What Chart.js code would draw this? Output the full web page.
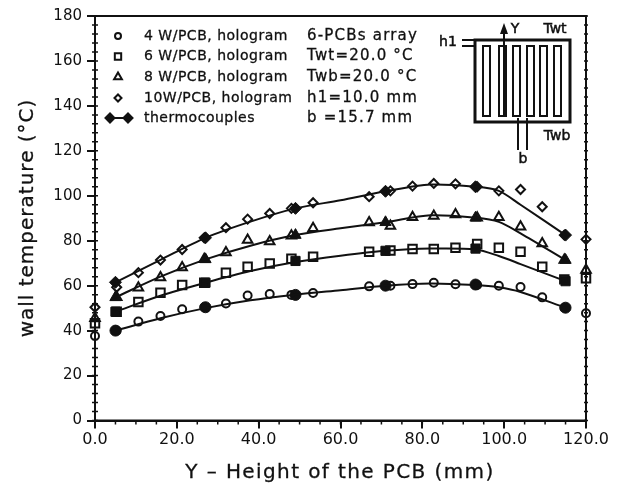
<!DOCTYPE html>
<html>
<head>
<meta charset="utf-8">
<title>wall temperature</title>
<style>
  html, body { margin: 0; padding: 0; background: #fff; }
  canvas { display: block; }
</style>
<script src="https://cdn.jsdelivr.net/npm/chart.js@4/dist/chart.umd.js"></script>
</head>
<body>
<canvas id="wallChart" width="621" height="486"></canvas>
<script>
'use strict';

// hologram readings, all four series share these heights (mm)
const holoY = [0, 5.3, 10.6, 16, 21.3, 26.7, 32, 37.3, 42.7, 48, 53.3, 67, 72.2, 77.6, 82.8, 88.1, 93.4, 98.7, 104, 109.3, 114.7, 120];
const holo4W = [37.6, 40, 44, 46.5, 49.5, 50.4, 52.1, 55.6, 56.3, 55.9, 56.7, 59.7, 60, 60.7, 61.3, 60.6, 60.3, 60, 59.4, 54.8, 50.2, 47.7];
const holo6W = [43.3, 48.4, 52.7, 56.9, 60.3, 61.3, 65.8, 68.4, 69.9, 72, 72.9, 75.1, 75.6, 76.3, 76.3, 76.9, 78.5, 76.9, 75.1, 68.4, 62.8, 63.3];
const holo8W = [45.5, 54.8, 59.1, 63.6, 68.1, 71.7, 74.8, 80.3, 79.6, 82.2, 85.6, 88.1, 86.5, 90.4, 91, 91.7, 90.2, 90.4, 86.2, 78.8, 71.4, 67];
const holo10W = [50.4, 59.3, 65.8, 71.4, 76.1, 81.3, 85.8, 89.6, 92.1, 94.4, 96.9, 99.6, 102.2, 104.3, 105.5, 105.3, 104, 102.2, 102.8, 95.1, 82.5, 80.6];

// thermocouple readings
const thermoY = [5, 27, 49, 71, 93, 115];
const thermo4W = [40, 50.4, 55.9, 60, 60.5, 50.2];
const thermo6W = [48.4, 61.3, 71, 75.5, 76.5, 62];
const thermo8W = [54.8, 71.7, 82.5, 88.2, 90.2, 71.4];
const thermo10W = [61.5, 81.3, 94.4, 102, 104, 82.5];

// fitted curves
const curveY = [5, 16, 27, 38, 49, 60, 71, 82, 93, 98.7, 104, 115];
const curve4W = [40, 45.5, 50, 53.5, 56, 58, 60, 61, 60.3, 59.3, 57.2, 50.2];
const curve6W = [48.4, 55.5, 61.3, 66.5, 70.5, 73.3, 75.5, 76.5, 76.1, 73.2, 69.6, 62];
const curve8W = [54.8, 64, 71.7, 77.8, 82.5, 85.5, 88.2, 91.3, 90.2, 88.4, 83.3, 71.4];
const curve10W = [61.5, 71.5, 81.3, 88.5, 94.4, 98, 102, 105, 104, 102.2, 96, 82.5];

const legendLeft = ["4 W/PCB, hologram", "6 W/PCB, hologram", "8 W/PCB, hologram", "10W/PCB, hologram", "thermocouples"];
const legendRight = ["6-PCBs array", "Twt=20.0 °C", "Twb=20.0 °C", "h1=10.0 mm", "b =15.7 mm"];
const markers = ["circle", "rect", "triangle", "rectRot"];

const INK = "#111";
const FONT = '"DejaVu Sans", sans-serif';

const toPoints = function (xs, ys) {
  return xs.map(function (x, i) { return { x: x, y: ys[i] }; });
}

const curveSet = function (ys) {
  return { data: toPoints(curveY, ys), showLine: true, borderColor: INK, borderWidth: 2, tension: 0.3, pointRadius: 0 };
}

const holoSet = function (ys, style, r) {
  return { data: toPoints(holoY, ys), showLine: false, pointStyle: style, pointRadius: r, borderColor: INK, backgroundColor: "transparent", pointBorderWidth: 2 };
}

const thermoSet = function (ys, style, r) {
  return { data: toPoints(thermoY, ys), showLine: false, pointStyle: style, pointRadius: r, borderColor: INK, backgroundColor: INK, pointBorderWidth: 1 };
}

const inkText = function (ctx, label, x, y) {
  ctx.fillText(label, x, y);
  ctx.strokeText(label, x, y);
}

/**
 * box, minor ticks, axis titles, legend and the little board sketch
 */

const extras = {
  id: "extras",
  afterDraw: function (chart) {
    const ctx = chart.ctx;
    const area = chart.chartArea;
    const xs = chart.scales.x;
    const ys = chart.scales.y;

    ctx.save();
    ctx.strokeStyle = INK;
    ctx.fillStyle = INK;
    ctx.lineWidth = 2;
    ctx.strokeRect(area.left, area.top, area.right - area.left, area.bottom - area.top);

    // minor ticks
    ctx.lineWidth = 1.5;
    ctx.beginPath();
    for (let v = 0; v <= 180; v += 4) {
      const py = ys.getPixelForValue(v);
      ctx.moveTo(area.left - 3, py);
      ctx.lineTo(area.left + 3, py);
      ctx.moveTo(area.right - 2, py);
      ctx.lineTo(area.right + 2, py);
    }
    for (let v = 0; v <= 120; v += 5) {
      const px = xs.getPixelForValue(v);
      ctx.moveTo(px, area.bottom);
      ctx.lineTo(px, area.bottom + 4);
    }
    ctx.stroke();

    // axis titles
    ctx.lineWidth = 0.3;
    ctx.textBaseline = "middle";
    ctx.textAlign = "center";
    ctx.font = "20px " + FONT;
    ctx.letterSpacing = "1.4px";
    inkText(ctx, "Y \u2013 Height of the PCB (mm)", 340, 473);
    ctx.save();
    ctx.translate(28, 218);
    ctx.rotate(-Math.PI / 2);
    ctx.letterSpacing = "1px";
    inkText(ctx, "wall temperature (°C)", 0, 0);
    ctx.restore();

    // legend
    ctx.textAlign = "left";
    const rows = [36, 56.5, 77, 98, 118];
    ctx.font = "14px " + FONT;
    ctx.letterSpacing = "0.5px";
    legendLeft.forEach(function (label, i) {
      inkText(ctx, label, 144, rows[i]);
    });
    ctx.font = "15px " + FONT;
    ctx.letterSpacing = "1.2px";
    legendRight.forEach(function (label, i) {
      inkText(ctx, label, 307, rows[i]);
    });
    ctx.letterSpacing = "0px";

    ctx.fillStyle = "#fff";
    ctx.lineWidth = 2;
    [3, 4.5, 4.5, 3.5].forEach(function (r, i) {
      Chart.helpers.drawPoint(ctx, { pointStyle: markers[i], radius: r, borderWidth: 2 }, 118, rows[i]);
    });
    ctx.fillStyle = INK;
    ctx.beginPath();
    ctx.moveTo(110, rows[4]);
    ctx.lineTo(128, rows[4]);
    ctx.stroke();
    Chart.helpers.drawPoint(ctx, { pointStyle: "rectRot", radius: 4.5, borderWidth: 1 }, 110, rows[4]);
    Chart.helpers.drawPoint(ctx, { pointStyle: "rectRot", radius: 4.5, borderWidth: 1 }, 128, rows[4]);

    // board sketch
    ctx.lineWidth = 3;
    ctx.strokeRect(475, 40, 95, 82);
    ctx.lineWidth = 2;
    [483, 499, 513, 527, 540, 554].forEach(function (sx) {
      ctx.strokeRect(sx, 46, 7, 70);
    });
    ctx.beginPath();
    ctx.moveTo(462, 40);
    ctx.lineTo(475, 40);
    ctx.moveTo(462, 46);
    ctx.lineTo(475, 46);
    ctx.moveTo(504, 26);
    ctx.lineTo(504, 116);
    ctx.moveTo(518, 118);
    ctx.lineTo(518, 150);
    ctx.moveTo(527, 118);
    ctx.lineTo(527, 150);
    ctx.stroke();
    ctx.beginPath();
    ctx.moveTo(504, 23);
    ctx.lineTo(500, 34);
    ctx.lineTo(508, 34);
    ctx.closePath();
    ctx.fill();
    ctx.lineWidth = 0.5;
    ctx.font = "14px " + FONT;
    ctx.textAlign = "center";
    inkText(ctx, "Y", 515, 29);
    inkText(ctx, "Twt", 555, 29);
    inkText(ctx, "h1", 448, 42);
    inkText(ctx, "Twb", 557, 136);
    inkText(ctx, "b", 523, 159);
    ctx.restore();
  }
};

const wallChart = new Chart(document.getElementById("wallChart"), {
  type: "scatter",
  data: {
    datasets: [
      curveSet(curve4W), curveSet(curve6W), curveSet(curve8W), curveSet(curve10W),
      holoSet(holo4W, markers[0], 4), holoSet(holo6W, markers[1], 6), holoSet(holo8W, markers[2], 5.5), holoSet(holo10W, markers[3], 4.5),
      thermoSet(thermo4W, markers[0], 5.5), thermoSet(thermo6W, markers[1], 6.5), thermoSet(thermo8W, markers[2], 6.5), thermoSet(thermo10W, markers[3], 6)
    ]
  },
  options: {
    responsive: false,
    animation: false,
    clip: false,
    layout: { padding: { top: 16, right: 35, left: 0, bottom: 0 } },
    plugins: { legend: { display: false }, tooltip: { enabled: false } },
    scales: {
      x: {
        type: "linear",
        min: 0,
        max: 120,
        afterFit: function (scale) { scale.height = 65.5; },
        ticks: {
          stepSize: 20,
          color: INK,
          padding: 2,
          maxRotation: 0,
          font: { family: FONT, size: 16 },
          callback: function (v) { return v.toFixed(1); }
        },
        grid: { drawOnChartArea: false, color: INK, lineWidth: 2, tickLength: 8 },
        border: { color: INK, width: 2 }
      },
      y: {
        min: 0,
        max: 180,
        afterFit: function (scale) { scale.width = 95; },
        ticks: {
          stepSize: 20,
          color: INK,
          padding: 5,
          font: { family: FONT, size: 15 }
        },
        grid: { drawOnChartArea: false, color: INK, lineWidth: 2, tickLength: 8 },
        border: { color: INK, width: 2 }
      }
    }
  },
  plugins: [extras]
});
</script>
</body>
</html>
